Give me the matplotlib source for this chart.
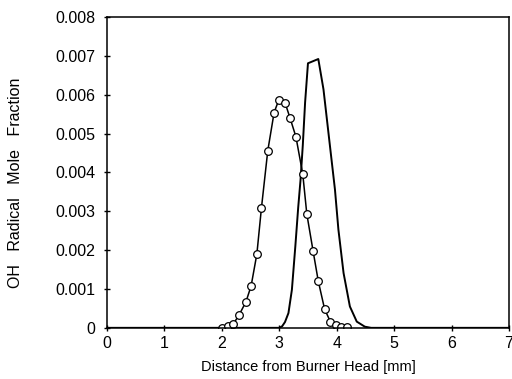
import matplotlib
matplotlib.use("Agg")
import matplotlib.pyplot as plt
from matplotlib.ticker import FuncFormatter

plt.rcParams['font.family'] = ['Liberation Sans', 'DejaVu Sans']

# measured OH profile (circles)
meas_x = [2.00, 2.10, 2.20, 2.30, 2.42, 2.51, 2.61, 2.69, 2.80, 2.91, 2.99, 3.10,
          3.19, 3.29, 3.41, 3.48, 3.59, 3.68, 3.79, 3.89, 3.99, 4.08, 4.18]
meas_y = [0.00000, 0.00005, 0.00010, 0.00033, 0.00067, 0.00108, 0.00190, 0.00309,
          0.00456, 0.00554, 0.00586, 0.00580, 0.00539, 0.00492, 0.00395, 0.00293,
          0.00197, 0.00120, 0.00048, 0.00016, 0.00008, 0.00003, 0.00002]

# computed OH profile (solid line)
calc_x = [0.0, 2.0, 3.00, 3.05, 3.10, 3.16, 3.22, 3.28, 3.33, 3.37, 3.41, 3.45,
          3.50, 3.68, 3.77, 3.89, 3.97, 4.03, 4.12, 4.23, 4.35, 4.49, 4.60, 7.0]
calc_y = [0.0, 0.0, 0.00000, 0.00004, 0.00015, 0.00038, 0.00098, 0.00210, 0.00310,
          0.00380, 0.00470, 0.00580, 0.00681, 0.00692, 0.00614, 0.00459, 0.00356,
          0.00253, 0.00141, 0.00055, 0.00016, 0.00003, 0.0, 0.0]

fig = plt.figure(figsize=(5.12, 3.79), dpi=100)
ax = fig.add_axes([0.209, 0.135, 0.785, 0.82])

ax.plot(calc_x, calc_y, color='black', lw=1.4)
ax.plot(meas_x, meas_y, color='black', lw=1.1, marker='o', ms=5.5,
        mfc='white', mec='black', mew=0.9)

ax.set_xlim(0, 7)
ax.set_ylim(0, 0.008)
ax.set_xticks(range(0, 8))
ax.set_yticks([i * 0.001 for i in range(9)])
ax.yaxis.set_major_formatter(FuncFormatter(lambda v, p: '0' if abs(v) < 1e-9 else '%.3f' % v))
ax.tick_params(direction='inout', length=5, width=1, labelsize=11.5, top=False, right=False)
ax.tick_params(axis='y', pad=6)
for s in ax.spines.values():
    s.set_linewidth(1.1)

ax.set_xlabel('Distance from Burner Head [mm]', fontsize=10.5)
ax.set_ylabel('OH   Radical   Mole   Fraction', fontsize=11.5)
ax.xaxis.set_label_coords(0.5, -0.105)
ax.yaxis.set_label_coords(-0.208, 0.468)

fig.savefig('out.png', dpi=100)
